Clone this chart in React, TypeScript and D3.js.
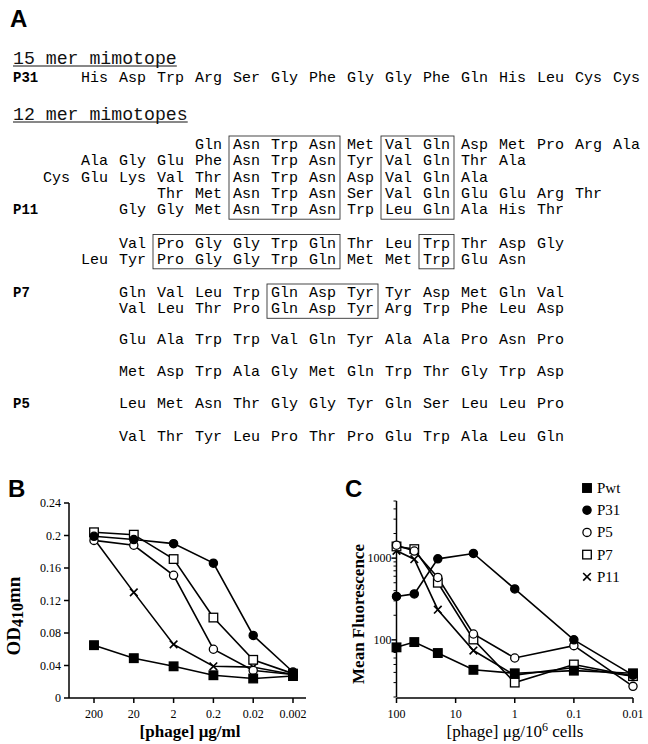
import React from 'react';
import * as d3 from 'd3';

const W = 648;
const H = 744;

// ---------- Panel A: mimotope sequences ----------
const p31Seq = 'His Asp Trp Arg Ser Gly Phe Gly Gly Phe Gln His Leu Cys Cys';

const mer12Seqs = [
  'Gln Asn Trp Asn Met Val Gln Asp Met Pro Arg Ala',
  'Ala Gly Glu Phe Asn Trp Asn Tyr Val Gln Thr Ala',
  'Cys Glu Lys Val Thr Asn Trp Asn Asp Val Gln Ala',
  'Thr Met Asn Trp Asn Ser Val Gln Glu Glu Arg Thr',
  'Gly Gly Met Asn Trp Asn Trp Leu Gln Ala His Thr',
  'Val Pro Gly Gly Trp Gln Thr Leu Trp Thr Asp Gly',
  'Leu Tyr Pro Gly Gly Trp Gln Met Met Trp Glu Asn',
  'Gln Val Leu Trp Gln Asp Tyr Tyr Asp Met Gln Val',
  'Val Leu Thr Pro Gln Asp Tyr Arg Trp Phe Leu Asp',
  'Glu Ala Trp Trp Val Gln Tyr Ala Ala Pro Asn Pro',
  'Met Asp Trp Ala Gly Met Gln Trp Thr Gly Trp Asp',
  'Leu Met Asn Thr Gly Gly Tyr Gln Ser Leu Leu Pro',
  'Val Thr Tyr Leu Pro Thr Pro Glu Trp Ala Leu Gln',
];
// alignment offset (residues) of each 12-mer
const mer12Offsets = [3, 0, -1, 2, 1, 1, 0, 1, 1, 1, 1, 1, 1];
const mer12Labels = ['', '', '', '', 'P11', '', '', 'P7', '', '', '', 'P5', ''];
// conserved motifs: [first row, last row, first col, last col]
const motifBoxes = [
  [0, 4, 4, 6],
  [0, 4, 8, 9],
  [5, 6, 2, 6],
  [5, 6, 9, 9],
  [7, 8, 5, 7],
];

// ---------- Panel B: ELISA ----------
const bConc = ['200', '20', '2', '0.2', '0.02', '0.002'];
const bPwt = [0.065, 0.049, 0.039, 0.028, 0.024, 0.027];
const bP31 = [0.199, 0.195, 0.19, 0.166, 0.077, 0.032];
const bP5 = [0.194, 0.188, 0.151, 0.06, 0.034, 0.029];
const bP7 = [0.204, 0.201, 0.171, 0.099, 0.047, 0.03];
const bP11 = [0.196, 0.13, 0.066, 0.039, 0.038, 0.029];
const bYTicks = [0, 0.04, 0.08, 0.12, 0.16, 0.2, 0.24];

// ---------- Panel C: flow cytometry ----------
const cConc = [100, 50, 20, 5, 1, 0.1, 0.01];
const cPwt = [81, 94, 69, 43, 39, 42, 39];
const cP31 = [340, 365, 980, 1140, 420, 100, 37];
const cP5 = [1440, 1220, 580, 118, 60, 85, 27];
const cP7 = [1390, 1290, 500, 101, 30, 50, 36];
const cP11 = [1230, 970, 234, 74, 37, 46, 36];
const cXTicks = [100, 10, 1, 0.1, 0.01];
const cXLabels = ['100', '10', '1', '0.1', '0.01'];

const seriesNames = ['Pwt', 'P31', 'P5', 'P7', 'P11'];
const seriesKinds = ['fsq', 'fci', 'oci', 'osq', 'x'];

const SERIF = '"Liberation Serif", "Times New Roman", serif';
const MONO = '"Liberation Mono", "Courier New", monospace';
const SANS = '"Liberation Sans", Arial, sans-serif';

function Marker({ kind, x, y, s = 1 }: { kind: string; x: number; y: number; s?: number }) {
  const h = 4.3 * s;
  if (kind === 'fsq' || kind === 'osq') {
    return (
      <rect x={x - h} y={y - h} width={2 * h} height={2 * h}
        fill={kind === 'fsq' ? '#000' : '#fff'} stroke="#000" strokeWidth={1.3} />
    );
  }
  if (kind === 'fci' || kind === 'oci') {
    return (
      <circle cx={x} cy={y} r={4.1 * s}
        fill={kind === 'fci' ? '#000' : '#fff'} stroke="#000" strokeWidth={1.3} />
    );
  }
  const d = 3.8 * s;
  return (
    <g stroke="#000" strokeWidth={1.6}>
      <line x1={x - d} y1={y - d} x2={x + d} y2={y + d} />
      <line x1={x - d} y1={y + d} x2={x + d} y2={y - d} />
    </g>
  );
}

function PanelA() {
  const col0 = 81;
  const pitch = 38;
  const fs = 15;
  const wordW = 3 * 0.6 * fs;
  const colX = (c: number) => col0 + pitch * c;
  const rowY = [149, 165.3, 181.6, 197.9, 214.2, 247.5, 263.8, 297, 313.3, 344, 376, 408, 441];
  const headFs = 18.2;
  const heads = [
    { t: '15 mer mimotope', y: 64 },
    { t: '12 mer mimotopes', y: 120 },
  ];
  const seqRow = (seq: string, start: number, y: number, key: string) =>
    seq.split(' ').map((w, i) => (
      <text key={key + i} x={colX(start + i)} y={y} fontFamily={MONO} fontSize={fs} fill="#000">{w}</text>
    ));

  return (
    <g>
      <text x={10} y={27} fontFamily={SANS} fontWeight="bold" fontSize={24}>A</text>
      {heads.map(h => (
        <g key={h.t}>
          <text x={13} y={h.y} fontFamily={MONO} fontSize={headFs} fill="#111">{h.t}</text>
          <line x1={13} x2={13 + h.t.length * 0.6 * headFs} y1={h.y + 2} y2={h.y + 2} stroke="#111" strokeWidth={1} />
        </g>
      ))}
      <text x={13} y={82} fontFamily={MONO} fontWeight="bold" fontSize={14}>P31</text>
      {seqRow(p31Seq, 0, 82, 'p31')}
      {mer12Seqs.map((s, r) => (
        <g key={'r' + r}>
          {mer12Labels[r] && (
            <text x={13} y={rowY[r]} fontFamily={MONO} fontWeight="bold" fontSize={14}>{mer12Labels[r]}</text>
          )}
          {seqRow(s, mer12Offsets[r], rowY[r], 'w' + r + '_')}
        </g>
      ))}
      {motifBoxes.map(([r0, r1, c0, c1], i) => (
        <rect key={'b' + i} x={colX(c0) - 4} y={rowY[r0] - 13}
          width={colX(c1) + wordW + 4 - (colX(c0) - 4)} height={rowY[r1] + 5 - (rowY[r0] - 13)}
          fill="none" stroke="#333" strokeWidth={0.9} />
      ))}
    </g>
  );
}

function PanelB() {
  const left = 69, right = 306, top = 503, bottom = 698;
  const x = d3.scalePoint<string>().domain(bConc).range([94, 293]);
  const y = d3.scaleLinear().domain([0, 0.24]).range([bottom, top]);
  const values = [bPwt, bP31, bP5, bP7, bP11];
  const line = d3.line<number>().x((_, i) => x(bConc[i]) as number).y(v => y(v));
  const order = [4, 3, 2, 1, 0];
  return (
    <g>
      <text x={8} y={497} fontFamily={SANS} fontWeight="bold" fontSize={24}>B</text>
      <g stroke="#000" strokeWidth={1.5}>
        <line x1={left} x2={left} y1={top} y2={bottom} />
        <line x1={left} x2={right} y1={bottom} y2={bottom} />
        {bYTicks.map(t => <line key={t} x1={left - 5} x2={left} y1={y(t)} y2={y(t)} />)}
        {bConc.map(c => <line key={c} x1={x(c)} x2={x(c)} y1={bottom} y2={bottom + 5} />)}
      </g>
      {bYTicks.map(t => (
        <text key={t} x={left - 8} y={y(t) + 4} textAnchor="end" fontFamily={SERIF} fontSize={12}>
          {String(+t.toFixed(2))}
        </text>
      ))}
      {bConc.map(c => (
        <text key={c} x={x(c)} y={718} textAnchor="middle" fontFamily={SERIF} fontSize={12}>{c}</text>
      ))}
      <text x={190} y={737} textAnchor="middle" fontFamily={SERIF} fontWeight="bold" fontSize={17}>
        [phage] μg/ml
      </text>
      <text transform="translate(20,616) rotate(-90)" textAnchor="middle" fontFamily={SERIF} fontWeight="bold" fontSize={19}>
        OD<tspan fontSize={16} dy={3}>410</tspan><tspan dy={-3}>mn</tspan>
      </text>
      {values.map((v, i) => (
        <path key={'l' + i} d={line(v) || ''} fill="none" stroke="#000" strokeWidth={1.6} />
      ))}
      {order.map(i => (
        <g key={'m' + i}>
          {values[i].map((v, j) => <Marker key={j} kind={seriesKinds[i]} x={x(bConc[j]) as number} y={y(v)} />)}
        </g>
      ))}
    </g>
  );
}

function PanelC() {
  const left = 396.5, top = 501, bottom = 697, axisY = 698;
  const x = d3.scaleLog().domain([100, 0.01]).range([left, 633]);
  const y = d3.scaleLog().domain([20, 5000]).range([bottom, top]);
  const values = [cPwt, cP31, cP5, cP7, cP11];
  const line = d3.line<number>().x((_, i) => x(cConc[i])).y(v => y(v));
  const order = [4, 3, 2, 1, 0];
  const yTicks = y.ticks();
  const isMajor = (t: number) => Math.abs(Math.log10(t) - Math.round(Math.log10(t))) < 1e-9;
  return (
    <g>
      <text x={345} y={497} fontFamily={SANS} fontWeight="bold" fontSize={24}>C</text>
      <g stroke="#000" strokeWidth={1.5}>
        <line x1={left} x2={left} y1={top} y2={bottom} />
        <line x1={left} x2={633} y1={axisY} y2={axisY} />
        {yTicks.map(t => (
          <line key={t} x1={left - (isMajor(t) ? 5 : 3)} x2={left} y1={y(t)} y2={y(t)}
            strokeWidth={isMajor(t) ? 1.5 : 1} />
        ))}
        {cXTicks.map(t => <line key={t} x1={x(t)} x2={x(t)} y1={axisY} y2={axisY + 5} />)}
      </g>
      {yTicks.filter(isMajor).map(t => (
        <text key={t} x={left - 5} y={y(t) + 4} textAnchor="end" fontFamily={SERIF} fontSize={12}>{t}</text>
      ))}
      {cXTicks.map((t, i) => (
        <text key={t} x={x(t)} y={718} textAnchor="middle" fontFamily={SERIF} fontSize={12}>{cXLabels[i]}</text>
      ))}
      <text x={515} y={737} textAnchor="middle" fontFamily={SERIF} fontSize={17}>
        [phage] μg/10<tspan fontSize={12} dy={-6}>6</tspan><tspan dy={6}> cells</tspan>
      </text>
      <text transform="translate(364,614) rotate(-90)" textAnchor="middle" fontFamily={SERIF} fontWeight="bold" fontSize={17}>
        Mean Fluorescence
      </text>
      {values.map((v, i) => (
        <path key={'l' + i} d={line(v) || ''} fill="none" stroke="#000" strokeWidth={1.6} />
      ))}
      {order.map(i => (
        <g key={'m' + i}>
          {values[i].map((v, j) => <Marker key={j} kind={seriesKinds[i]} x={x(cConc[j])} y={y(v)} />)}
        </g>
      ))}
      {seriesNames.map((n, i) => (
        <g key={n}>
          <Marker kind={seriesKinds[i]} x={587} y={488 + i * 22.2} />
          <text x={597} y={493 + i * 22.2} fontFamily={SERIF} fontSize={15}>{n}</text>
        </g>
      ))}
    </g>
  );
}

export default function App() {
  return (
    <svg width={W} height={H} viewBox={`0 0 ${W} ${H}`}
      style={{ position: 'absolute', left: 0, top: 0, background: '#fff' }}>
      <rect width={W} height={H} fill="#fff" />
      <PanelA />
      <PanelB />
      <PanelC />
    </svg>
  );
}
